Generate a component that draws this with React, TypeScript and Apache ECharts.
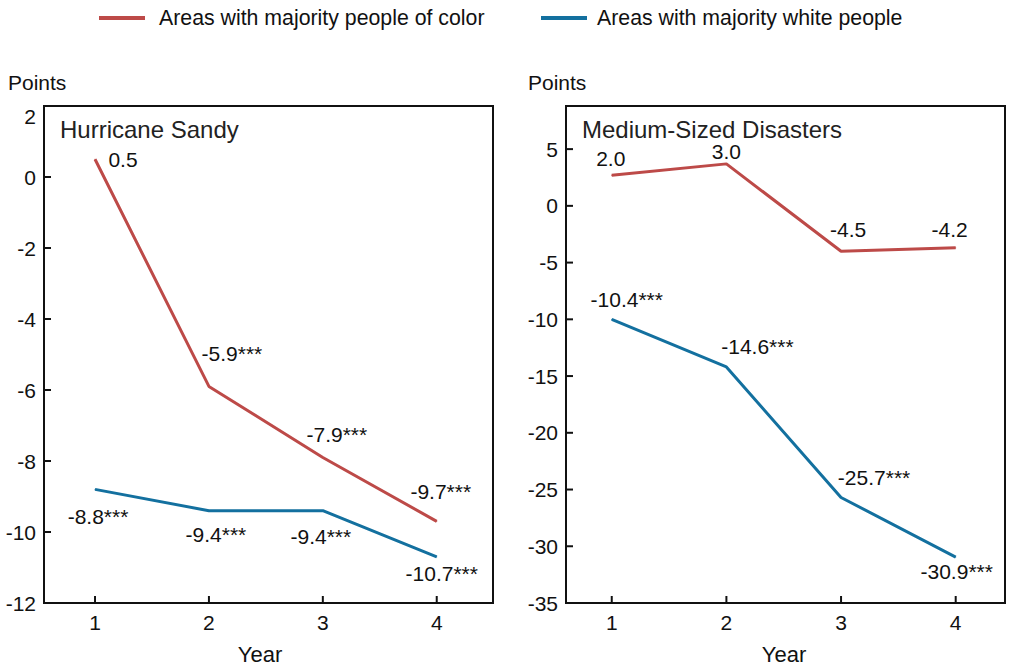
import React, { useEffect, useRef } from "react";
import * as echarts from "echarts";

const years = [1, 2, 3, 4];
const seriesNames = ["Areas with majority people of color", "Areas with majority white people"];
const panelTitles = ["Hurricane Sandy", "Medium-Sized Disasters"];

// Hurricane Sandy
const sandyColor = [0.5, -5.9, -7.9, -9.7];
const sandyWhite = [-8.8, -9.4, -9.4, -10.7];
const sandyColorLabels = ["0.5", "-5.9***", "-7.9***", "-9.7***"];
const sandyWhiteLabels = ["-8.8***", "-9.4***", "-9.4***", "-10.7***"];

// Medium-sized disasters (line positions as drawn; labels as printed)
const mediumColor = [2.7, 3.7, -4.0, -3.7];
const mediumWhite = [-10.0, -14.2, -25.7, -30.95];
const mediumColorLabels = ["2.0", "3.0", "-4.5", "-4.2"];
const mediumWhiteLabels = ["-10.4***", "-14.6***", "-25.7***", "-30.9***"];

const leftTicks = [-12, -10, -8, -6, -4, -2, 0, 2];
const rightTicks = [-35, -30, -25, -20, -15, -10, -5, 0, 5];

// axis extents
const leftX = [0.552, 4.494];
const rightX = [0.601, 4.43];
const leftY = [-12, 2];
const rightY = [-35, 8.8];

// label offsets (style only)
const offSandyColor = [[28, 0], [23, -33], [14, -23], [4, -30]];
const offSandyWhite = [[3, 27], [7, 24], [-2, 26], [5, 17]];
const offMediumColor = [[-1, -17], [0, -12], [7, -22], [-6, -18]];
const offMediumWhite = [[15, -20], [31, -20], [33, -20], [1, 14]];

const RED = "#bd4a48";
const BLUE = "#13709f";
const INK = "#111111";
const FONT = "Liberation Sans, Arial, sans-serif";

// layout (pixels)
const W = 1009;
const H = 669;
const GRID_TOP = 106;
const GRID_BOTTOM = 66;
const GRIDS = [
  { left: 44, right: 516 },
  { left: 566, right: 4 },
];
const TICK_PX = 7;

function buildData(vals: number[], labels: string[], offs: number[][]) {
  return vals.map((v, i) => ({
    value: [years[i], v],
    label: {
      show: true,
      formatter: labels[i],
      position: "inside",
      offset: offs[i],
    },
  }));
}

function tickLine(xi: number, a: number[], b: number[]) {
  return {
    type: "line",
    xAxisIndex: xi,
    yAxisIndex: xi,
    data: [a, b],
    symbol: "none",
    showSymbol: false,
    clip: false,
    silent: true,
    z: 6,
    color: INK,
    lineStyle: { color: INK, width: 2 },
    emphasis: { disabled: true },
    tooltip: { show: false },
  };
}

function tickLines(xi: number, xExt: number[], yExt: number[], yTicks: number[]) {
  const g = GRIDS[xi];
  const plotW = W - g.left - g.right;
  const plotH = H - GRID_TOP - GRID_BOTTOM;
  const dx = (TICK_PX * (xExt[1] - xExt[0])) / plotW;
  const dy = (TICK_PX * (yExt[1] - yExt[0])) / plotH;
  return [
    ...years.map((y) => tickLine(xi, [y, yExt[0]], [y, yExt[0] + dy])),
    ...yTicks.map((t) => tickLine(xi, [xExt[0], t], [xExt[0] + dx, t])),
  ];
}

export default function App() {
  const ref = useRef<HTMLDivElement>(null);
  useEffect(() => {
    if (!ref.current) return;
    const chart = echarts.init(ref.current, null, { renderer: "svg" });
    const labelStyle = { color: INK, fontSize: 21, fontFamily: FONT };
    const lineSeries = (name: string, color: string, xi: number, data: any) => ({
      name,
      type: "line",
      xAxisIndex: xi,
      yAxisIndex: xi,
      data,
      color,
      symbol: "circle",
      symbolSize: 1,
      showSymbol: true,
      lineStyle: { color, width: 3 },
      itemStyle: { color },
      label: { color: INK, fontSize: 21, fontFamily: FONT },
      emphasis: { disabled: true },
    });
    const axLine = { show: true, onZero: false, lineStyle: { color: INK, width: 2 } };
    const legendText = (x: number, text: string) => ({
      type: "text", x, y: 18,
      style: { text, fill: INK, fontSize: 21.3, fontFamily: FONT, verticalAlign: "middle" },
    });
    chart.setOption({
      animation: false,
      textStyle: { fontFamily: FONT },
      grid: GRIDS.map((g) => ({
        left: g.left, right: g.right, top: GRID_TOP, bottom: GRID_BOTTOM,
        show: true, borderColor: INK, borderWidth: 2, containLabel: false,
      })),
      xAxis: [
        {
          type: "value", gridIndex: 0, min: leftX[0], max: leftX[1], position: "bottom",
          splitLine: { show: false }, axisLine: axLine, axisTick: { show: false },
          axisLabel: { ...labelStyle, margin: 9, customValues: years },
        },
        {
          type: "value", gridIndex: 1, min: rightX[0], max: rightX[1], position: "bottom",
          splitLine: { show: false }, axisLine: axLine, axisTick: { show: false },
          axisLabel: { ...labelStyle, margin: 9, customValues: years },
        },
      ],
      yAxis: [
        {
          type: "value", gridIndex: 0, min: leftY[0], max: leftY[1], interval: 2, position: "left",
          splitLine: { show: false }, axisLine: axLine, axisTick: { show: false },
          axisLabel: { ...labelStyle, margin: 8, customValues: leftTicks, verticalAlignMaxLabel: "top" },
        },
        {
          type: "value", gridIndex: 1, min: rightY[0], max: rightY[1], position: "left",
          splitLine: { show: false }, axisLine: axLine, axisTick: { show: false },
          axisLabel: { ...labelStyle, margin: 8, customValues: rightTicks },
        },
      ],
      graphic: [
        { type: "rect", shape: { x: 99, y: 16, width: 46, height: 4 }, style: { fill: RED } },
        legendText(159, seriesNames[0]),
        { type: "rect", shape: { x: 541, y: 16, width: 46, height: 4 }, style: { fill: BLUE } },
        legendText(597, seriesNames[1]),
        { type: "text", left: 8, top: 72, style: { text: "Points", fill: INK, fontSize: 21, fontFamily: FONT } },
        { type: "text", left: 528, top: 72, style: { text: "Points", fill: INK, fontSize: 21, fontFamily: FONT } },
        { type: "text", left: 60, top: 117, style: { text: panelTitles[0], fill: "#222", fontSize: 24, fontFamily: FONT } },
        { type: "text", left: 582, top: 117, style: { text: panelTitles[1], fill: "#222", fontSize: 24, fontFamily: FONT } },
        { type: "text", x: 260, y: 654, style: { text: "Year", fill: INK, fontSize: 22, fontFamily: FONT, align: "center", verticalAlign: "middle" } },
        { type: "text", x: 784, y: 654, style: { text: "Year", fill: INK, fontSize: 22, fontFamily: FONT, align: "center", verticalAlign: "middle" } },
      ],
      series: [
        ...tickLines(0, leftX, leftY, leftTicks),
        ...tickLines(1, rightX, rightY, rightTicks),
        lineSeries(seriesNames[0], RED, 0, buildData(sandyColor, sandyColorLabels, offSandyColor)),
        lineSeries(seriesNames[1], BLUE, 0, buildData(sandyWhite, sandyWhiteLabels, offSandyWhite)),
        lineSeries(seriesNames[0], RED, 1, buildData(mediumColor, mediumColorLabels, offMediumColor)),
        lineSeries(seriesNames[1], BLUE, 1, buildData(mediumWhite, mediumWhiteLabels, offMediumWhite)),
      ],
    });
    return () => chart.dispose();
  }, []);
  return (
    <div
      ref={ref}
      style={{ position: "fixed", left: 0, top: 0, width: W, height: H, background: "#fff" }}
    />
  );
}
